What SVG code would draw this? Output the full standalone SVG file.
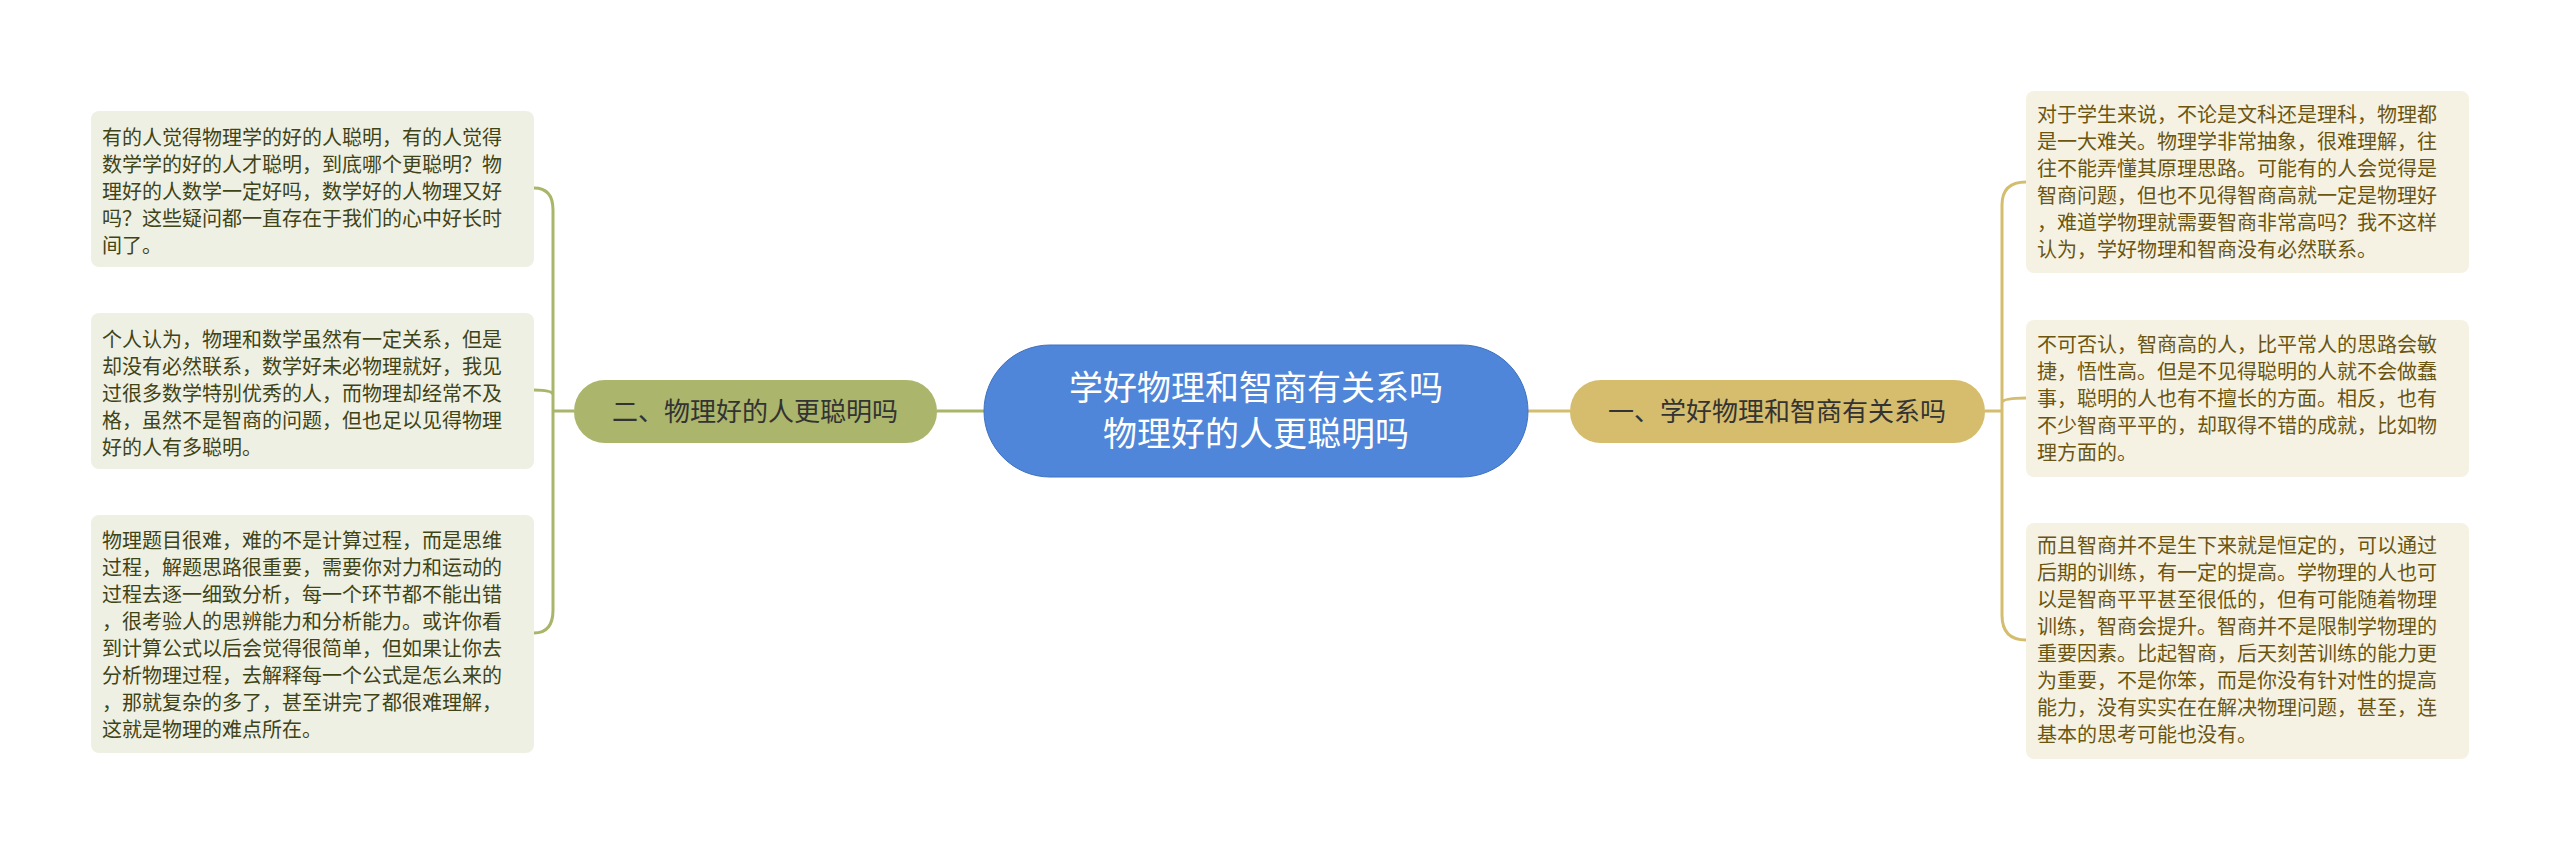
<svg xmlns="http://www.w3.org/2000/svg" width="2560" height="851" viewBox="0 0 2560 851">
<style>
text{font-family:"Noto Sans CJK SC","Liberation Sans",sans-serif}
.lf{fill:#eff0e4}.rf{fill:#f6f2e3}
.lt{font-size:20px;fill:#3f4416}.rt{font-size:20px;fill:#6a5612}
.lc{fill:none;stroke:#aab56a;stroke-width:3}.rc{fill:none;stroke:#d4bd6e;stroke-width:3}
</style>
<rect width="2560" height="851" fill="#fff"/>
<g id="connectors">
<path class="lc" d="M984,411 H937 M574,411 H553 M553,411 V210 Q553,188 534,188 M553,411 V395 Q553,390 534,390 M553,411 V610 Q553,633 534,633"/>
<path class="rc" d="M1528,411 H1570 M1985,411 H2002 M2002,411 V205 Q2002,182 2026,182 M2002,411 V403 Q2002,398 2026,398 M2002,411 V615 Q2002,640 2026,640"/>
</g>
<g id="center"><rect x="984" y="345" width="544" height="132" rx="66" fill="#4f86d9" stroke="#3f72c0"/>
<text x="1256" y="400" font-size="34" fill="#fff" text-anchor="middle">学好物理和智商有关系吗</text>
<text x="1256" y="446" font-size="34" fill="#fff" text-anchor="middle">物理好的人更聪明吗</text></g>
<g id="left"><rect x="574" y="380" width="363" height="63" rx="31" fill="#abb56b"/>
<text x="755" y="421" font-size="26" fill="#333" text-anchor="middle">二、物理好的人更聪明吗</text></g>
<g id="right"><rect x="1570" y="380" width="415" height="63" rx="31" fill="#d5bd6d"/>
<text x="1777" y="421" font-size="26" fill="#333" text-anchor="middle">一、学好物理和智商有关系吗</text></g>
<g id="l1"><rect class="lf" x="91" y="111" width="443" height="156" rx="8"/>
<text class="lt" x="102" y="145">有的人觉得物理学的好的人聪明，有的人觉得<tspan x="102" dy="27">数学学的好的人才聪明，到底哪个更聪明？物</tspan><tspan x="102" dy="27">理好的人数学一定好吗，数学好的人物理又好</tspan><tspan x="102" dy="27">吗？这些疑问都一直存在于我们的心中好长时</tspan><tspan x="102" dy="27">间了。</tspan></text></g>
<g id="l2"><rect class="lf" x="91" y="313" width="443" height="156" rx="8"/>
<text class="lt" x="102" y="347">个人认为，物理和数学虽然有一定关系，但是<tspan x="102" dy="27">却没有必然联系，数学好未必物理就好，我见</tspan><tspan x="102" dy="27">过很多数学特别优秀的人，而物理却经常不及</tspan><tspan x="102" dy="27">格，虽然不是智商的问题，但也足以见得物理</tspan><tspan x="102" dy="27">好的人有多聪明。</tspan></text></g>
<g id="l3"><rect class="lf" x="91" y="515" width="443" height="238" rx="8"/>
<text class="lt" x="102" y="548">物理题目很难，难的不是计算过程，而是思维<tspan x="102" dy="27">过程，解题思路很重要，需要你对力和运动的</tspan><tspan x="102" dy="27">过程去逐一细致分析，每一个环节都不能出错</tspan><tspan x="102" dy="27">，很考验人的思辨能力和分析能力。或许你看</tspan><tspan x="102" dy="27">到计算公式以后会觉得很简单，但如果让你去</tspan><tspan x="102" dy="27">分析物理过程，去解释每一个公式是怎么来的</tspan><tspan x="102" dy="27">，那就复杂的多了，甚至讲完了都很难理解，</tspan><tspan x="102" dy="27">这就是物理的难点所在。</tspan></text></g>
<g id="r1"><rect class="rf" x="2026" y="91" width="443" height="182" rx="8"/>
<text class="rt" x="2037" y="122">对于学生来说，不论是文科还是理科，物理都<tspan x="2037" dy="27">是一大难关。物理学非常抽象，很难理解，往</tspan><tspan x="2037" dy="27">往不能弄懂其原理思路。可能有的人会觉得是</tspan><tspan x="2037" dy="27">智商问题，但也不见得智商高就一定是物理好</tspan><tspan x="2037" dy="27">，难道学物理就需要智商非常高吗？我不这样</tspan><tspan x="2037" dy="27">认为，学好物理和智商没有必然联系。</tspan></text></g>
<g id="r2"><rect class="rf" x="2026" y="320" width="443" height="157" rx="8"/>
<text class="rt" x="2037" y="352">不可否认，智商高的人，比平常人的思路会敏<tspan x="2037" dy="27">捷，悟性高。但是不见得聪明的人就不会做蠢</tspan><tspan x="2037" dy="27">事，聪明的人也有不擅长的方面。相反，也有</tspan><tspan x="2037" dy="27">不少智商平平的，却取得不错的成就，比如物</tspan><tspan x="2037" dy="27">理方面的。</tspan></text></g>
<g id="r3"><rect class="rf" x="2026" y="523" width="443" height="236" rx="8"/>
<text class="rt" x="2037" y="553">而且智商并不是生下来就是恒定的，可以通过<tspan x="2037" dy="27">后期的训练，有一定的提高。学物理的人也可</tspan><tspan x="2037" dy="27">以是智商平平甚至很低的，但有可能随着物理</tspan><tspan x="2037" dy="27">训练，智商会提升。智商并不是限制学物理的</tspan><tspan x="2037" dy="27">重要因素。比起智商，后天刻苦训练的能力更</tspan><tspan x="2037" dy="27">为重要，不是你笨，而是你没有针对性的提高</tspan><tspan x="2037" dy="27">能力，没有实实在在解决物理问题，甚至，连</tspan><tspan x="2037" dy="27">基本的思考可能也没有。</tspan></text></g>
</svg>
